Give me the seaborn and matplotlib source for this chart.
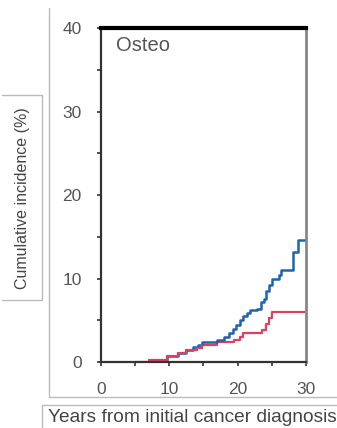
import numpy as np
import pandas as pd
import matplotlib
matplotlib.use("Agg")
import matplotlib.pyplot as plt
import seaborn as sns
from matplotlib.lines import Line2D
from matplotlib.ticker import MultipleLocator

# step points (years, cumulative incidence %)
blue_t = [5, 7, 9.7, 11.3, 12.5, 13.5, 14.2, 14.8, 17, 18, 18.7, 19.3, 19.8,
          20.3, 20.8, 21.3, 21.8, 22.8, 23.4, 23.8, 24.2, 24.6, 25.0, 26.0,
          26.4, 28.1, 28.9, 30]
blue_v = [0, 0.2, 0.7, 1.1, 1.4, 1.8, 2.1, 2.4, 2.7, 3.0, 3.5, 4.0, 4.5,
          5.0, 5.5, 5.9, 6.2, 6.4, 7.2, 7.6, 8.5, 9.2, 10.0, 10.4,
          11.0, 13.2, 14.6, 14.6]
red_t = [5, 7, 9.7, 11.3, 12.5, 14.0, 14.8, 17.0, 19.5, 20.3, 20.8, 23.6,
         24.2, 24.6, 25.0, 30]
red_v = [0, 0.2, 0.7, 1.1, 1.4, 1.7, 2.0, 2.4, 2.6, 3.0, 3.5, 3.9,
         4.6, 5.3, 6.0, 6.0]

x_ticks = [0, 10, 20, 30]
y_ticks = [0, 10, 20, 30, 40]


def main():
    sns.set_style("white")
    plt.rcParams["font.family"] = ["Liberation Sans", "DejaVu Sans"]

    blue = pd.DataFrame({"t": blue_t, "v": blue_v})
    red = pd.DataFrame({"t": red_t, "v": red_v})

    fig = plt.figure(figsize=(3.37, 4.28), dpi=100)
    ax = fig.add_axes([0.2997, 0.154, 0.6083, 0.7806])

    sns.lineplot(data=red, x="t", y="v", drawstyle="steps-post",
                 color="#e0405e", lw=1.6, ax=ax)
    sns.lineplot(data=blue, x="t", y="v", drawstyle="steps-post",
                 color="#1f63ad", lw=1.8, ax=ax)
    sns.lineplot(data=red[red["t"] <= 14.8], x="t", y="v",
                 drawstyle="steps-post", color="#e0405e", lw=1.4, ax=ax)

    ax.set_xlim(0, 30)
    ax.set_ylim(0, 40)
    ax.set_xticks(x_ticks)
    ax.set_yticks(y_ticks)
    ax.xaxis.set_minor_locator(MultipleLocator(5))
    ax.yaxis.set_minor_locator(MultipleLocator(5))
    ax.tick_params(which="both", direction="out", length=3, width=1.2,
                   color="#333333", bottom=True, left=True)
    ax.tick_params(which="major", labelsize=12.5, labelcolor="#555555", pad=11)
    ax.set_xlabel("")
    ax.set_ylabel("")

    ax.spines["left"].set_color("#333333")
    ax.spines["left"].set_linewidth(1.6)
    ax.spines["bottom"].set_color("#333333")
    ax.spines["bottom"].set_linewidth(1.6)
    ax.spines["top"].set_color("black")
    ax.spines["top"].set_linewidth(3)
    ax.spines["right"].set_color("#888888")
    ax.spines["right"].set_linewidth(2)

    ax.text(0.075, 0.975, "Osteo", transform=ax.transAxes, fontsize=14.5,
            color="#555555", va="top", ha="left")

    # frame lines from the pasted layout
    g = "#bbbbbb"
    fig.add_artist(Line2D([49 / 337, 49 / 337], [1 - 8 / 428, 1 - 397 / 428],
                          color=g, lw=1, transform=fig.transFigure))
    fig.add_artist(Line2D([49 / 337, 1], [1 - 397 / 428, 1 - 397 / 428],
                          color=g, lw=1, transform=fig.transFigure))
    # y label box
    fig.add_artist(Line2D([2 / 337, 42 / 337, 42 / 337, 2 / 337],
                          [1 - 95 / 428, 1 - 95 / 428, 1 - 300 / 428, 1 - 300 / 428],
                          color=g, lw=1, transform=fig.transFigure))
    # x label box
    fig.add_artist(Line2D([1, 42 / 337, 42 / 337],
                          [1 - 405 / 428, 1 - 405 / 428, 0],
                          color=g, lw=1, transform=fig.transFigure))

    fig.text(22 / 337, 1 - 198 / 428, "Cumulative incidence (%)",
             rotation=90, ha="center", va="center", fontsize=11.5,
             color="#444444")
    fig.text(48 / 337, 1 - 418 / 428, "Years from initial cancer diagnosis",
             ha="left", va="center", fontsize=13.8, color="#444444")

    fig.savefig("out.png", dpi=100)


if __name__ == '__main__':
    main()
